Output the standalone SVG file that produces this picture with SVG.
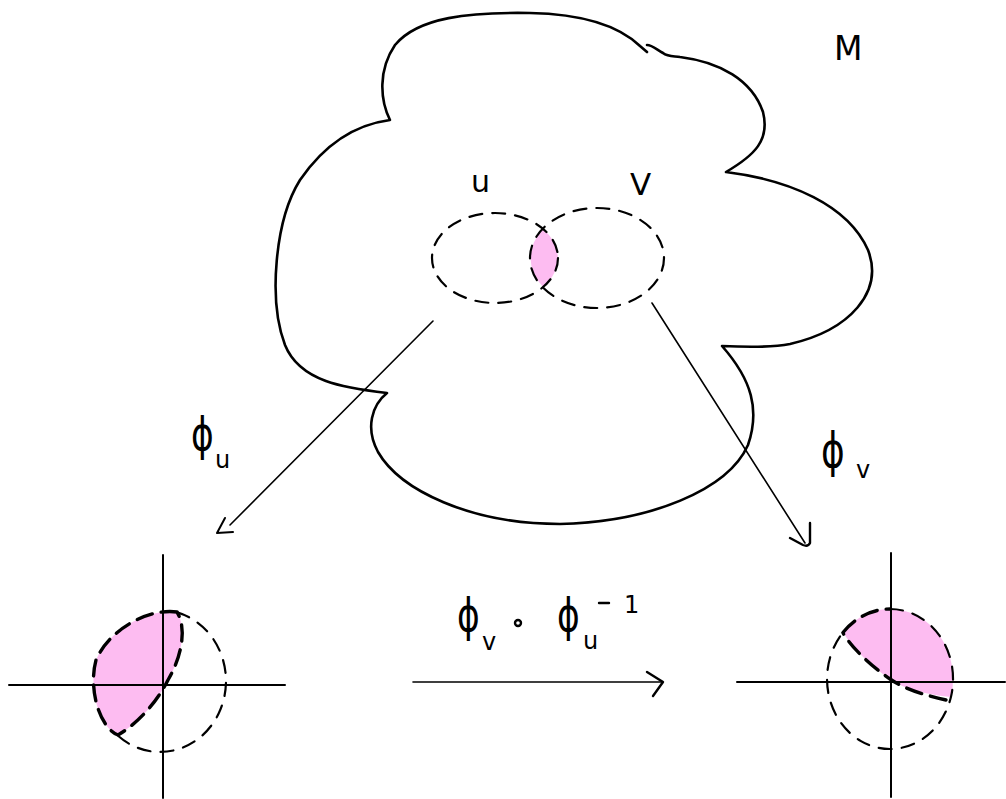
<svg xmlns="http://www.w3.org/2000/svg" width="1006" height="799" viewBox="0 0 1006 799">
<style>
.ink{fill:none;stroke:#000;stroke-linecap:round;stroke-linejoin:round}
.outline{stroke-width:2.6}
.thin{stroke-width:1.6}
.axis{stroke-width:2}
.dash{stroke-width:2.2;stroke-dasharray:13 10}
.bold{stroke-width:3.4;stroke-dasharray:16 9}
.pink{fill:#fdbcf1;stroke:none}
.t{font-family:"DejaVu Sans","Liberation Sans",sans-serif;fill:#000}
</style>
<rect width="1006" height="799" fill="#fff"/>
<g id="manifold">
<path class="ink outline" d="M647,45 C652,45 656,49 663,53 C668,57 674,56 680,57 C720,62 752,80 763,112 C770,140 755,155 726,172 C790,180 848,205 868,250 C884,292 850,330 790,344 C770,348 742,347 722,346 C752,380 760,410 748,445 C728,490 650,522 560,524 C470,524 400,490 378,452 C365,428 372,405 387,393 C345,388 300,382 285,345 C268,300 275,220 300,180 C322,148 352,125 390,120 C380,100 378,70 395,45 C418,17 470,12 530,13 C580,14 618,25 640,46 L647,52"/>
<text class="t" x="834" y="60" font-size="33">M</text>
</g>
<g id="set-U">
<path class="pink" d="M543,229 A63,45 0 0 1 543,287 A67,50 0 0 1 543,229 Z"/>
<ellipse class="ink dash" cx="495" cy="258" rx="63" ry="45"/>
<text class="t" x="471" y="192" font-size="30">u</text>
</g>
<g id="set-V">
<ellipse class="ink dash" cx="597" cy="258" rx="67" ry="50"/>
<text class="t" x="630" y="195" font-size="31">V</text>
</g>
<g id="chart-left">
<path class="pink" d="M177,612 C150,608 110,628 96,660 C88,690 100,728 118,735 C140,722 158,700 168,680 C180,660 188,630 177,612 Z"/>
<line class="ink axis" x1="9" y1="685" x2="285" y2="685"/>
<line class="ink axis" x1="163" y1="555" x2="163" y2="798"/>
<path class="ink dash" d="M177.1,612.4 A66,71 0 1 1 117.6,735.4"/>
<path class="ink bold" d="M177,612 C150,608 110,628 96,660 C88,690 100,728 118,735 C140,722 158,700 168,680 C180,660 188,630 177,612"/>
</g>
<g id="chart-right">
<path class="pink" d="M843.2,632.2 A63,70 0 0 1 950.9,697.1 C915,693 900,686 890,679 C870,665 852,648 843.2,632.2 Z"/>
<line class="ink axis" x1="737" y1="682" x2="1005" y2="682"/>
<line class="ink axis" x1="891" y1="553" x2="891" y2="797"/>
<path class="ink dash" d="M890,609 A63,70 0 1 1 843.2,632.2"/>
<path class="ink bold" d="M843.2,632.2 A63,70 0 0 1 890,609"/>
<path class="ink bold" d="M946,700 C915,693 900,686 890,679 C870,665 852,648 843,633"/>
</g>
<g id="transition">
<text class="t" x="457" y="631" font-size="46" transform="translate(457 0) scale(0.75 1) translate(-457 0)">ϕ</text>
<text class="t" x="482" y="650" font-size="24">v</text>
<circle cx="518" cy="623" r="3" fill="none" stroke="#000" stroke-width="2.4"/>
<text class="t" x="557" y="631" font-size="46" transform="translate(557 0) scale(0.75 1) translate(-557 0)">ϕ</text>
<text class="t" x="583" y="649" font-size="24">u</text>
<line class="ink" x1="599" y1="603" x2="609" y2="603" style="stroke-width:2.4"/>
<text class="t" x="624" y="613" font-size="24">1</text>
</g>
<g id="labels">
<text class="t" x="191" y="450" font-size="46" transform="translate(191 0) scale(0.75 1) translate(-191 0)">ϕ</text>
<text class="t" x="215" y="468" font-size="24">u</text>
<text class="t" x="821" y="467" font-size="48" transform="translate(821 0) scale(0.75 1) translate(-821 0)">ϕ</text>
<text class="t" x="856" y="478" font-size="24">v</text>
</g>
<g id="connectors">
<path class="ink thin" d="M433,321 L230,525"/>
<path class="ink axis" d="M225,518 L217,533 L233,532"/>
<path class="ink thin" d="M652,303 L805,543"/>
<path class="ink" style="stroke-width:2.4" d="M810,523 L810,543 Q808,547 803,545 L790,538"/>
<path class="ink thin" d="M413,682 L662,682"/>
<path class="ink" style="stroke-width:2.4" d="M647,672 L663,682 L653,696"/>
</g>
</svg>
